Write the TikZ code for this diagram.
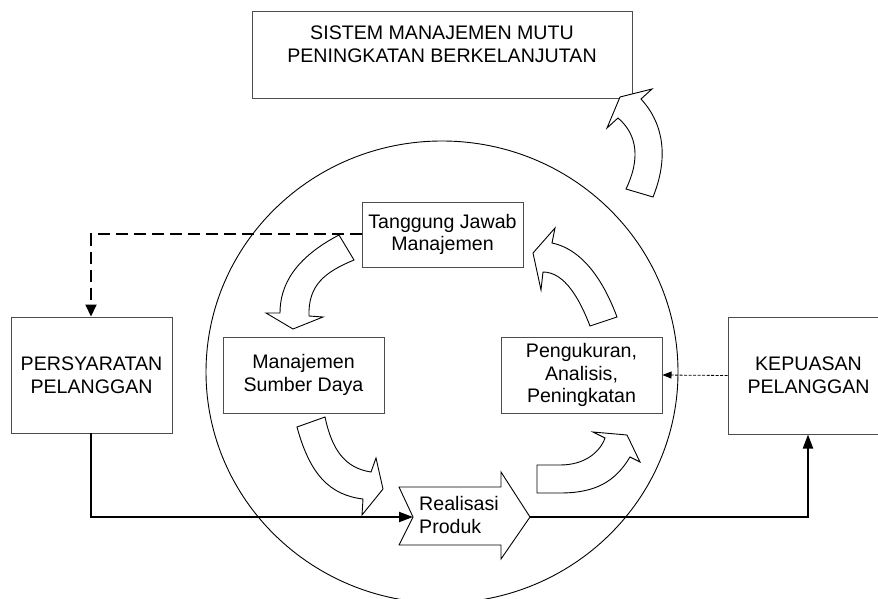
\documentclass[tikz,border=0pt]{standalone}
\usepackage{fontspec}
\setmainfont{Liberation Sans}
\usetikzlibrary{arrows.meta}
\begin{document}
\begin{tikzpicture}[x=1pt,y=-1pt,
  box/.style={draw=black!70, line width=1pt, fill=white, minimum width=161pt, inner sep=0pt, align=center, font=\fontsize{19.6}{22.7}\selectfont},
  txt/.style={inner sep=0pt, align=center, font=\fontsize{19.6}{22.7}\selectfont},
  blockarrow/.style={draw=black, line width=0.9pt, fill=white, line join=miter},
  conn/.style={line width=2pt, -{Triangle[length=14pt,width=10pt]}},
  dashconn/.style={line width=2pt, dash pattern=on 12pt off 6pt, -{Triangle[length=12pt,width=11pt]}},
  dotconn/.style={line width=0.8pt, dash pattern=on 3pt off 1.5pt, -{Triangle[length=9pt,width=7pt]}}]
\useasboundingbox (0,0) rectangle (878,599);

% big circle
\draw[line width=0.9pt] (442,372) ellipse [x radius=236, y radius=231];

% top system box
\node[box, minimum width=380pt, minimum height=87pt] (sys) at (442,55.5) {};
\node[txt] (systext) at (442,44) {SISTEM MANAJEMEN MUTU\\PENINGKATAN BERKELANJUTAN};

% boxes
\node[box, minimum height=65pt] (tj) at (442.5,234.5) {Tanggung Jawab\\Manajemen};
\node[box, minimum height=76pt] (msd) at (303.5,375) {Manajemen\\Sumber Daya};
\node[box, minimum height=76pt] (pa) at (581.5,375) {Pengukuran,\\Analisis,\\Peningkatan};
\node[box, minimum height=116pt] (ps) at (91.5,375) {PERSYARATAN\\PELANGGAN};
\node[box, minimum height=117pt] (kp) at (808.5,375.5) {KEPUASAN\\PELANGGAN};

% block arrows
% A: Tanggung Jawab -> Manajemen Sumber Daya
\draw[blockarrow] (339,235) .. controls (295,258) and (280,285) .. (280,313)
  -- (266,313) -- (293,329) -- (323,317) -- (309,316)
  .. controls (308,285) and (325,272) .. (354,260) -- cycle;
% B: Manajemen Sumber Daya -> Realisasi
\draw[blockarrow] (297,427) .. controls (310,475) and (330,495) .. (363,499)
  -- (362,515) -- (383,489) -- (376,458) -- (371,472)
  .. controls (345,468) and (332,450) .. (325,417) -- cycle;
% C: Realisasi -> Pengukuran
\draw[blockarrow] (537,465) -- (560,465) .. controls (585,465) and (600,452) .. (605,438)
  -- (593,432) -- (627,435) -- (640,462) -- (630,457)
  .. controls (615,482) and (595,493) .. (560,493) -- (537,493) -- cycle;
% D: Pengukuran -> Tanggung Jawab
\draw[blockarrow] (617,317) .. controls (605,285) and (585,250) .. (552,243)
  -- (555,228) -- (533,253) -- (541,290) -- (543,272)
  .. controls (565,272) and (580,300) .. (590,326) -- cycle;
% E: circle -> system box
\draw[blockarrow] (653,197) .. controls (668,160) and (665,125) .. (641,99)
  -- (652,89) -- (620,97) -- (607,128) -- (618,118)
  .. controls (638,135) and (640,160) .. (626,189) -- cycle;

% Realisasi Produk
\draw[blockarrow] (399,487) -- (501,487) -- (501,472) -- (530,517) -- (501,559)
  -- (501,545) -- (399,545) -- (413,517) -- cycle;
\node[txt, align=left, anchor=west] (rp) at (419,515) {Realisasi\\Produk};
\coordinate (rin) at (413,517);
\coordinate (rout) at (530,517);

% connectors
\draw[dashconn] (tj.west |- 0,234) -- (91,234) -- (ps.north -| 91,0);
\draw[conn] (91,433) -- (91,517) -- (rin);
\draw[conn] (rout) -- (808,517) -- (kp.south -| 808,0);
\draw[dotconn] (kp.west) -- (pa.east);
\end{tikzpicture}
\end{document}
